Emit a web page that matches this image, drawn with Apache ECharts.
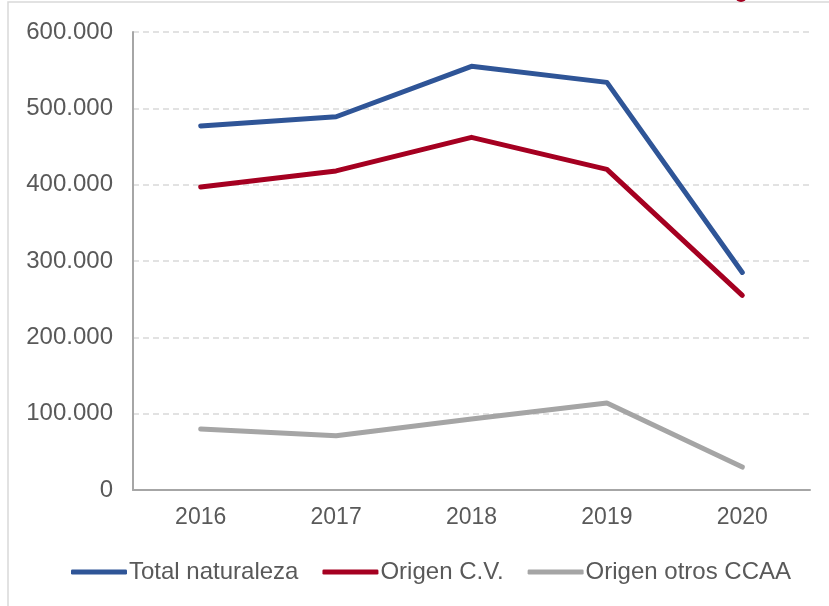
<!DOCTYPE html>
<html><head><meta charset="utf-8">
<script src="https://cdn.jsdelivr.net/npm/echarts@6/dist/echarts.min.js"></script>
<style>html,body{margin:0;padding:0;background:#fff}#c{width:829px;height:606px}</style>
</head><body><div id="c"></div>
<script>
var categories = ['2016','2017','2018','2019','2020'];
var totalNaturaleza = [477000, 489000, 555000, 534000, 285000];
var origenCV = [397000, 418000, 462000, 420000, 255000];
var origenOtros = [80000, 71000, 93000, 114000, 30000];
var seriesNames = ['Total naturaleza','Origen C.V.','Origen otros CCAA'];
var colors = ['#2F5597','#A50021','#A5A5A5'];

function fmt(v){ return String(v).replace(/\B(?=(\d{3})+(?!\d))/g,'.'); }

var chart = echarts.init(document.getElementById('c'));
var font = 'Liberation Sans, Arial, sans-serif';
chart.setOption({
  animation:false,
  color: colors,
  textStyle:{fontFamily:font},
  graphic:[
    {type:'rect',shape:{x:8,y:2,width:840,height:640},style:{fill:'none',stroke:'#D9D9D9',lineWidth:1.5},z:-1},
    {type:'circle',shape:{cx:741,cy:-4,r:6},style:{fill:'#A50021'}}
  ],
  grid:{left:133,right:19,top:32,bottom:116},
  legend:{
    top:555,left:66,itemWidth:56,itemHeight:5,itemGap:24,
    icon:'roundRect',
    textStyle:{fontSize:24,color:'#595959',fontFamily:font,padding:[0,0,0,-3]},
    data:seriesNames
  },
  xAxis:{type:'category',data:categories,boundaryGap:true,
    axisLine:{lineStyle:{color:'#A6A6A6',width:2}},axisTick:{show:false},
    axisLabel:{fontSize:23,color:'#595959',margin:16}},
  yAxis:{type:'value',min:0,max:600000,interval:100000,
    axisLine:{show:true,lineStyle:{color:'#A6A6A6',width:2}},axisTick:{show:false},
    splitLine:{lineStyle:{color:'#D9D9D9',type:[6,4],width:1.5}},
    axisLabel:{fontSize:24,color:'#595959',margin:20,formatter:fmt}},
  series:[
    {name:seriesNames[0],type:'line',data:totalNaturaleza,symbol:'none',lineStyle:{width:5,cap:'round',join:'round'}},
    {name:seriesNames[1],type:'line',data:origenCV,symbol:'none',lineStyle:{width:5,cap:'round',join:'round'}},
    {name:seriesNames[2],type:'line',data:origenOtros,symbol:'none',lineStyle:{width:5,cap:'round',join:'round'}}
  ]
});
</script></body></html>
